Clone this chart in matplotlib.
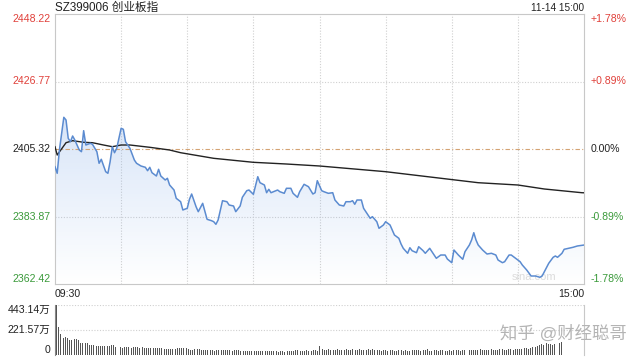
import numpy as np
import matplotlib
matplotlib.use("Agg")
import matplotlib.pyplot as plt

plt.rcParams["font.family"] = ["Liberation Sans", "Noto Sans CJK SC", "DejaVu Sans"]

# intraday data, minutes from 09:30 (lunch break collapsed)
price_minutes = [0, 1, 2, 4, 5, 6, 7, 8, 9, 11, 12, 13, 14, 16, 17, 19, 20, 21, 23, 24,
                 25, 26, 27, 28, 30, 31, 32, 34, 36, 37, 39, 41, 42, 43, 44, 46, 47, 48, 50, 51,
                 52, 54, 55, 57, 58, 60, 61, 62, 64, 65, 67, 69, 71, 72, 73, 74, 76, 78, 79, 81,
                 82, 84, 85, 87, 88, 90, 92, 93, 95, 96, 97, 98, 101, 102, 104, 105, 107, 108, 110, 111,
                 113, 115, 117, 118, 119, 121, 122, 124, 126, 127, 129, 131, 132, 134, 135, 136, 137, 139, 140, 141,
                 143, 144, 146, 147, 149, 150, 152, 154, 156, 157, 158, 160, 161, 162, 164, 165, 167, 168, 170, 172,
                 173, 175, 177, 178, 180, 181, 183, 185, 186, 188, 189, 190, 191, 192, 194, 196, 198, 200, 201, 203,
                 204, 206, 207, 209, 211, 212, 214, 216, 218, 220, 221, 222, 224, 226, 227, 228, 230, 231, 233, 235,
                 237, 239, 240]
prices = [2399.70, 2397.60, 2405.00, 2415.39, 2414.54, 2408.72, 2407.64, 2409.45, 2408.18, 2405.00,
          2404.46, 2411.14, 2406.59, 2407.13, 2406.81, 2404.46, 2400.78, 2402.05, 2398.11, 2397.60,
          2401.28, 2406.05, 2404.14, 2405.54, 2411.90, 2411.58, 2407.64, 2405.54, 2401.82, 2400.78,
          2399.92, 2399.50, 2398.42, 2399.50, 2397.79, 2396.74, 2398.87, 2396.74, 2395.47, 2396.01,
          2393.88, 2392.29, 2389.65, 2388.57, 2385.94, 2386.48, 2389.34, 2391.02, 2386.98, 2385.40,
          2388.06, 2382.98, 2382.54, 2382.22, 2381.39, 2382.76, 2388.89, 2388.57, 2387.52, 2387.21,
          2385.40, 2387.21, 2389.97, 2392.07, 2392.29, 2390.92, 2396.52, 2394.61, 2393.88, 2391.43,
          2392.51, 2391.43, 2392.29, 2391.75, 2391.24, 2392.83, 2392.83, 2391.24, 2389.97, 2391.75,
          2394.10, 2393.34, 2391.02, 2391.43, 2395.25, 2392.07, 2391.75, 2391.24, 2391.43, 2389.11,
          2387.52, 2387.21, 2388.57, 2388.57, 2388.89, 2387.75, 2389.11, 2389.11, 2386.48, 2385.40,
          2383.30, 2383.81, 2382.22, 2380.12, 2381.17, 2382.22, 2381.17, 2377.99, 2376.94, 2375.13,
          2373.76, 2372.18, 2373.95, 2373.00, 2372.37, 2374.27, 2373.00, 2372.18, 2373.76, 2371.63,
          2370.59, 2371.63, 2371.63, 2370.36, 2369.19, 2373.22, 2371.63, 2370.27, 2372.68, 2374.81,
          2376.40, 2378.72, 2376.40, 2374.81, 2373.22, 2371.95, 2372.18, 2371.63, 2370.05, 2369.19,
          2369.51, 2371.63, 2371.63, 2370.59, 2369.51, 2368.46, 2366.87, 2364.96, 2364.96, 2364.55,
          2364.96, 2366.33, 2369.00, 2370.90, 2371.32, 2370.90, 2372.18, 2373.45, 2373.76, 2374.08,
          2374.50, 2374.72, 2374.80]

avg_minutes = [0, 1, 5, 8, 13, 17, 22, 26, 30, 34, 43, 52, 57, 72, 90, 105, 120, 150, 179, 192,
               210, 222, 239, 240]
avg_prices = [2406.05, 2403.41, 2407.32, 2407.96, 2407.45, 2407.32, 2406.59, 2406.05, 2406.59, 2406.59,
              2405.86, 2405.00, 2404.14, 2402.36, 2401.09, 2400.55, 2399.92, 2398.11, 2395.69, 2394.61,
              2393.88, 2392.61, 2391.43, 2391.40]

# volume per minute, in 万
volume = [443, 251, 183, 153, 162, 148, 133, 133, 139, 142,
          133, 109, 103, 103, 109, 89, 89, 86, 83, 83,
          80, 83, 77, 80, 83, 89, 89, 74, 68, 71,
          65, 74, 68, 68, 65, 68, 74, 68, 65, 71,
          65, 65, 59, 59, 62, 65, 59, 65, 59, 53,
          53, 53, 53, 53, 53, 59, 65, 65, 59, 59,
          50, 47, 44, 50, 50, 50, 47, 44, 41, 41,
          44, 41, 35, 41, 41, 41, 41, 41, 41, 41,
          38, 44, 47, 44, 35, 32, 38, 35, 32, 32,
          35, 32, 32, 35, 32, 32, 35, 35, 32, 35,
          32, 29, 35, 32, 29, 35, 38, 32, 35, 44,
          41, 35, 32, 38, 41, 35, 38, 44, 41, 38,
          83, 50, 44, 47, 53, 41, 44, 47, 53, 44,
          41, 47, 50, 47, 44, 50, 47, 44, 50, 47,
          41, 44, 50, 47, 53, 44, 41, 47, 38, 41,
          47, 38, 41, 44, 38, 35, 41, 44, 38, 41,
          35, 38, 41, 44, 47, 41, 38, 44, 47, 50,
          38, 35, 41, 44, 38, 41, 44, 38, 35, 41,
          38, 41, 44, 47, 38, 41, 44, 38, 41, 47,
          44, 41, 47, 50, 44, 41, 47, 44, 50, 47,
          44, 47, 53, 50, 47, 44, 50, 53, 47, 50,
          53, 56, 53, 59, 62, 56, 65, 68, 74, 80,
          86, 95, 89, 104, 100, 96, 92, 98, 105, 110,
          118]

prev_close = 2405.32
y_ticks = [2362.42, 2383.87, 2405.32, 2426.77, 2448.22]
pct_labels = ["-1.78%", "-0.89%", "0.00%", "+0.89%", "+1.78%"]
vol_ticks = [0, 221.57, 443.14]
vol_labels = ["0", "221.57万", "443.14万"]

RED = "#e0403a"
GREEN = "#3a9a3a"
GRID = "#d0d0d0"
LINE = "#5b8bd0"

fig = plt.figure(figsize=(6.4, 3.6), dpi=100)
ax = fig.add_axes([55 / 640, 1 - 284 / 360, 529 / 640, 270 / 360])
axv = fig.add_axes([55 / 640, 1 - 355 / 360, 529 / 640, 50 / 360])

ymin, ymax = y_ticks[0], y_ticks[-1]
ax.set_xlim(0, 240)
ax.set_ylim(ymin, ymax)

# gradient under the price line
grad = np.zeros((256, 1, 4))
grad[:, 0, 0] = 0.55
grad[:, 0, 1] = 0.70
grad[:, 0, 2] = 0.92
grad[:, 0, 3] = np.linspace(0.34, 0.0, 256)
fill = ax.fill_between(price_minutes, prices, ymin, color="none")
img = ax.imshow(grad, extent=[0, 240, ymin, max(prices)], aspect="auto", origin="upper", zorder=1)
img.set_clip_path(fill.get_paths()[0], transform=ax.transData)

for t in y_ticks[1:-1]:
    if t == prev_close:
        ax.axhline(t, color="#d4a373", lw=0.8, ls=(0, (4, 2, 1, 2)), zorder=2)
    else:
        ax.axhline(t, color=GRID, lw=0.8, ls=(0, (1, 1.5)), zorder=0)
for m in range(30, 240, 30):
    ax.axvline(m, color=GRID, lw=0.8, ls=(0, (1, 1.5)), zorder=0)

ax.plot(price_minutes, prices, color=LINE, lw=1.1, zorder=4)
ax.plot(avg_minutes, avg_prices, color="#222222", lw=1.0, zorder=3)

ax.set_xticks([])
ax.set_yticks([])
for s in ax.spines.values():
    s.set_color("#c8c8c8")
    s.set_linewidth(0.8)

# left price labels and right percent labels
for i, (t, p) in enumerate(zip(y_ticks, pct_labels)):
    c = RED if t > prev_close else (GREEN if t < prev_close else "#222222")
    va = "bottom" if i == 0 else ("top" if i == len(y_ticks) - 1 else "center")
    ax.text(-2, t, f"{t:.2f}", color=c, fontsize=7.6, ha="right", va=va)
    ax.text(243, t, p, color=c, fontsize=7.6, ha="left", va=va)

ax.text(0, 1.024, "SZ399006 创业板指", transform=ax.transAxes, fontsize=8.4, ha="left", va="center", color="#222222")
ax.text(1, 1.024, "11-14 15:00", transform=ax.transAxes, fontsize=7.2, ha="right", va="center", color="#222222")
ax.text(0, -0.018, "09:30", transform=ax.transAxes, fontsize=7.6, ha="left", va="top", color="#222222")
ax.text(1, -0.018, "15:00", transform=ax.transAxes, fontsize=7.6, ha="right", va="top", color="#222222")
ax.text(0.905, 0.025, "sina.com", transform=ax.transAxes, fontsize=8, ha="center", va="center", color="#dcdcdc")

# volume
vol_x = np.arange(len(volume)) + 0.7
axv.bar(vol_x, volume, width=0.45, color="#555555", zorder=3)
axv.set_xlim(0, 241)
axv.set_ylim(0, vol_ticks[-1])
for t in vol_ticks[1:]:
    axv.axhline(t, color=GRID, lw=0.8, ls=(0, (1, 1.5)), zorder=0)
axv.set_xticks([])
axv.set_yticks([])
for k in ["top", "bottom"]:
    axv.spines[k].set_visible(False)
axv.spines["left"].set_color("#888888")
axv.spines["right"].set_color("#c8c8c8")
for i, (t, lab) in enumerate(zip(vol_ticks, vol_labels)):
    va = "bottom" if i == 0 else ("top" if i == len(vol_ticks) - 1 else "center")
    axv.text(-2, t, lab, fontsize=7.6, ha="right", va=va, color="#222222")

fig.text(0.98, 1 - 333 / 360, "知乎 @财经聪哥", fontsize=12.5, ha="right", va="center", color="#b4b4b4")

fig.savefig("out.png", dpi=100)
